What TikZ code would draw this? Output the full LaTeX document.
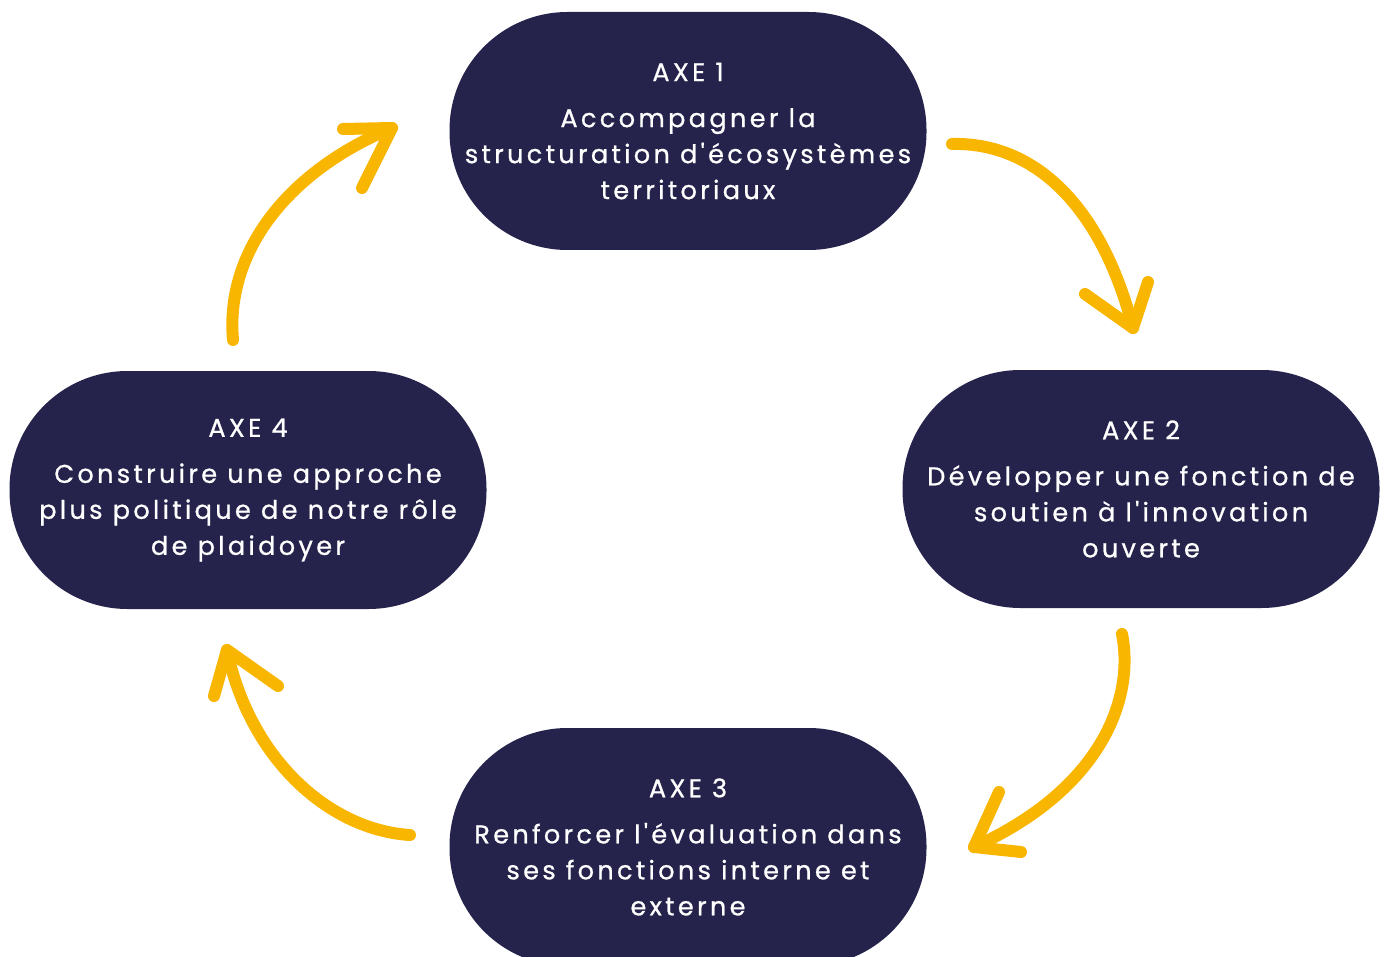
\documentclass[tikz,border=0pt]{standalone}
\usepackage{fontspec}
\newfontfamily\axefont[LetterSpace=13,Ligatures=TeXOff,FakeBold=0.8]{Poppins}
\definecolor{axenavy}{RGB}{37,35,75}
\definecolor{axeyellow}{RGB}{249,182,0}
\tikzset{
	axebox/.style={fill=axenavy, text=white, rounded corners=59pt, minimum width=238.5pt, minimum height=119pt, align=center, inner sep=0pt, font=\axefont\fontsize{12.8}{18}\selectfont},
	brush/.style={draw=axeyellow, line width=6pt, line cap=round, line join=round},
}
\begin{document}
\begin{tikzpicture}[x=0.5pt,y=-0.5pt]
	\useasboundingbox (0,0) rectangle (1386,957);
	\clip (0,0) rectangle (1386,957);
	
	\node[axebox] (Axe1) at (688,131) {AXE 1\\[5pt]Accompagner la\\structuration d'écosystèmes\\territoriaux};
	\node[axebox] (Axe2) at (1141,489) {AXE 2\\[5pt]Développer une fonction de\\soutien à l'innovation\\ouverte};
	\node[axebox] (Axe3) at (688,847) {AXE 3\\[5pt]Renforcer l'évaluation dans\\ses fonctions interne et\\externe};
	\node[axebox] (Axe4) at (248,490) {AXE 4\\[5pt]Construire une approche\\plus politique de notre rôle\\de plaidoyer};
	
	\coordinate (Arrow12Start) at (952,144);
	\coordinate (Arrow12Tip)   at (1133,328);
	\coordinate (Arrow23Start) at (1122,634);
	\coordinate (Arrow23Tip)   at (974,847);
	\coordinate (Arrow34Start) at (410,835);
	\coordinate (Arrow34Tip)   at (227,650);
	\coordinate (Arrow41Start) at (233,340);
	\coordinate (Arrow41Tip)   at (392,128);
	
	\draw [brush] (Arrow12Start) .. controls (1030,142) and (1100,200) .. (Arrow12Tip);% Axe 1 to Axe 2
	\draw [brush] (1085,294) -- (Arrow12Tip) -- (1148,282);
	
	\draw [brush] (Arrow23Start) .. controls (1135,700) and (1100,790) .. (Arrow23Tip);% Axe 2 to Axe 3
	\draw [brush] (999,792) -- (Arrow23Tip) -- (1021,852);
	
	\draw [brush] (Arrow34Start) .. controls (330,830) and (250,760) .. (Arrow34Tip);% Axe 3 to Axe 4
	\draw [brush] (214,696) -- (Arrow34Tip) -- (278,686);
	
	\draw [brush] (Arrow41Start) .. controls (225,250) and (290,170) .. (Arrow41Tip);% Axe 4 to Axe 1
	\draw [brush] (343,129) -- (Arrow41Tip) -- (362,188);
\end{tikzpicture}
\end{document}
